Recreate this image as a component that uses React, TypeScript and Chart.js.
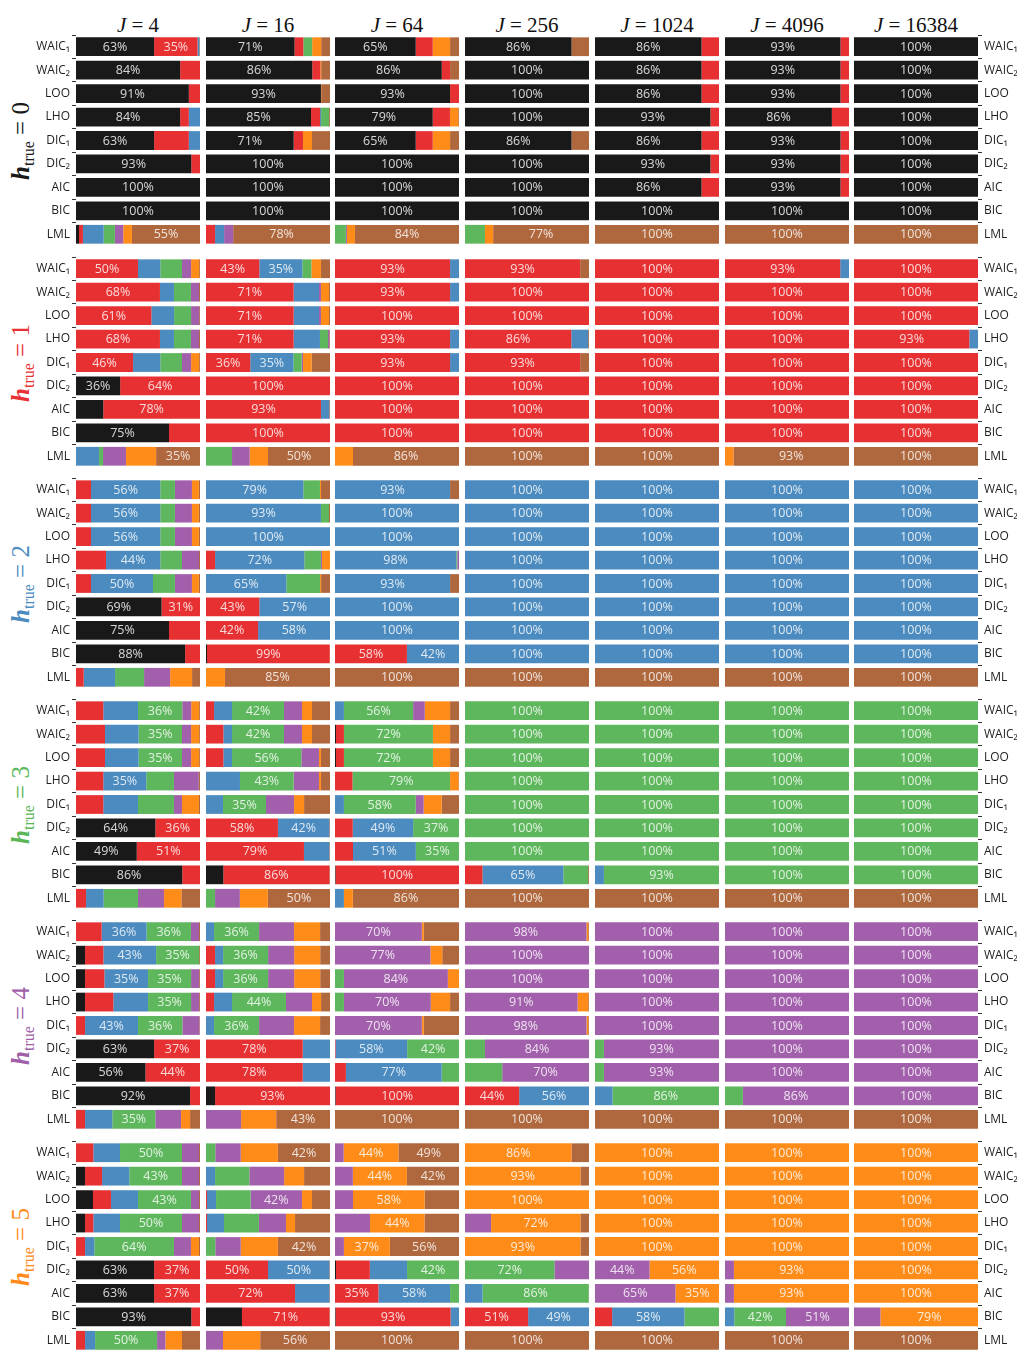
import React, { useEffect, useRef } from "react";
import { Chart, registerables } from "chart.js";
Chart.register(...registerables);

const CRITERIA = ["WAIC₁", "WAIC₂", "LOO", "LHO", "DIC₁", "DIC₂", "AIC", "BIC", "LML"];
const J_VALUES = ["4", "16", "64", "256", "1024", "4096", "16384"];
const H_TRUE = [0, 1, 2, 3, 4, 5];
// segment colours for selected h = 0..5 and h >= 6
const MODEL_COLORS = [
  "rgba(0,0,0,0.9)",
  "rgba(228,26,28,0.9)",
  "rgba(55,126,184,0.9)",
  "rgba(77,175,74,0.9)",
  "rgba(152,78,163,0.9)",
  "rgba(255,127,0,0.9)",
  "rgba(166,86,40,0.9)",
];
const ROW_LABEL_COLORS = ["#1a1a1a", "#e73133", "#4b8bbf", "#5ab657", "#a05fa9", "#ff8a1a"];

// each row: share of selections [h0, h1, h2, h3, h4, h5, h6+] for WAIC1..LML
// ---------- h_true = 0 ----------
const H0_J4 = [
  [0.63, 0.35, 0.015, 0, 0, 0, 0.005],
  [0.84, 0.16, 0, 0, 0, 0, 0],
  [0.91, 0.09, 0, 0, 0, 0, 0],
  [0.84, 0.07, 0.09, 0, 0, 0, 0],
  [0.63, 0.28, 0.09, 0, 0, 0, 0],
  [0.93, 0.07, 0, 0, 0, 0, 0],
  [1, 0, 0, 0, 0, 0, 0],
  [1, 0, 0, 0, 0, 0, 0],
  [0.024, 0.032, 0.167, 0.091, 0.067, 0.07, 0.549],
];
const H0_J16 = [
  [0.714, 0.071, 0, 0.071, 0, 0.073, 0.071],
  [0.857, 0.065, 0, 0, 0, 0.007, 0.071],
  [0.927, 0, 0, 0, 0, 0.002, 0.071],
  [0.847, 0.073, 0.008, 0.065, 0, 0, 0.007],
  [0.707, 0.075, 0, 0, 0, 0.073, 0.145],
  [1, 0, 0, 0, 0, 0, 0],
  [1, 0, 0, 0, 0, 0, 0],
  [1, 0, 0, 0, 0, 0, 0],
  [0, 0.073, 0.073, 0, 0.073, 0, 0.781],
];
const H0_J64 = [
  [0.651, 0.137, 0, 0, 0, 0.14, 0.072],
  [0.861, 0.067, 0, 0, 0, 0, 0.072],
  [0.928, 0.072, 0, 0, 0, 0, 0],
  [0.788, 0.139, 0, 0, 0, 0.067, 0.006],
  [0.651, 0.137, 0, 0, 0, 0.14, 0.072],
  [1, 0, 0, 0, 0, 0, 0],
  [1, 0, 0, 0, 0, 0, 0],
  [1, 0, 0, 0, 0, 0, 0],
  [0, 0, 0, 0.088, 0.008, 0.065, 0.839],
];
const H0_J256 = [
  [0.859, 0, 0, 0, 0, 0, 0.141],
  [1, 0, 0, 0, 0, 0, 0],
  [1, 0, 0, 0, 0, 0, 0],
  [1, 0, 0, 0, 0, 0, 0],
  [0.859, 0, 0, 0, 0, 0, 0.141],
  [1, 0, 0, 0, 0, 0, 0],
  [1, 0, 0, 0, 0, 0, 0],
  [1, 0, 0, 0, 0, 0, 0],
  [0, 0, 0, 0.161, 0, 0.066, 0.773],
];
const H0_J1024 = [
  [0.859, 0.141, 0, 0, 0, 0, 0],
  [0.859, 0.141, 0, 0, 0, 0, 0],
  [0.859, 0.141, 0, 0, 0, 0, 0],
  [0.931, 0.069, 0, 0, 0, 0, 0],
  [0.859, 0.141, 0, 0, 0, 0, 0],
  [0.931, 0.069, 0, 0, 0, 0, 0],
  [0.859, 0.141, 0, 0, 0, 0, 0],
  [1, 0, 0, 0, 0, 0, 0],
  [0, 0, 0, 0, 0, 0, 1],
];
const H0_J4096 = [
  [0.931, 0.069, 0, 0, 0, 0, 0],
  [0.931, 0.069, 0, 0, 0, 0, 0],
  [0.931, 0.069, 0, 0, 0, 0, 0],
  [0.862, 0.138, 0, 0, 0, 0, 0],
  [0.931, 0.069, 0, 0, 0, 0, 0],
  [0.931, 0.069, 0, 0, 0, 0, 0],
  [0.931, 0.069, 0, 0, 0, 0, 0],
  [1, 0, 0, 0, 0, 0, 0],
  [0, 0, 0, 0, 0, 0, 1],
];
const H0_J16384 = [
  [1, 0, 0, 0, 0, 0, 0],
  [1, 0, 0, 0, 0, 0, 0],
  [1, 0, 0, 0, 0, 0, 0],
  [1, 0, 0, 0, 0, 0, 0],
  [1, 0, 0, 0, 0, 0, 0],
  [1, 0, 0, 0, 0, 0, 0],
  [1, 0, 0, 0, 0, 0, 0],
  [1, 0, 0, 0, 0, 0, 0],
  [0, 0, 0, 0, 0, 0, 1],
];

// ---------- h_true = 1 ----------
const H1_J4 = [
  [0, 0.5, 0.18, 0.175, 0.073, 0.065, 0.007],
  [0, 0.677, 0.113, 0.137, 0.065, 0, 0.008],
  [0, 0.608, 0.183, 0.137, 0.065, 0, 0.007],
  [0, 0.677, 0.113, 0.137, 0.065, 0, 0.008],
  [0, 0.46, 0.22, 0.175, 0.073, 0.065, 0.007],
  [0.356, 0.644, 0, 0, 0, 0, 0],
  [0.22, 0.78, 0, 0, 0, 0, 0],
  [0.75, 0.25, 0, 0, 0, 0, 0],
  [0, 0, 0.186, 0.032, 0.185, 0.243, 0.354],
];
const H1_J16 = [
  [0, 0.43, 0.347, 0.073, 0, 0.077, 0.073],
  [0, 0.707, 0.204, 0, 0.016, 0.065, 0.008],
  [0, 0.707, 0.204, 0, 0.016, 0.065, 0.008],
  [0, 0.707, 0.212, 0.065, 0.01, 0, 0.006],
  [0, 0.357, 0.348, 0.067, 0.01, 0.07, 0.148],
  [0, 1, 0, 0, 0, 0, 0],
  [0, 0.927, 0.067, 0, 0, 0, 0.006],
  [0, 1, 0, 0, 0, 0, 0],
  [0, 0, 0, 0.21, 0.142, 0.148, 0.5],
];
const H1_J64 = [
  [0, 0.928, 0.072, 0, 0, 0, 0],
  [0, 0.928, 0.072, 0, 0, 0, 0],
  [0, 1, 0, 0, 0, 0, 0],
  [0, 0.928, 0.072, 0, 0, 0, 0],
  [0, 0.928, 0.072, 0, 0, 0, 0],
  [0, 1, 0, 0, 0, 0, 0],
  [0, 1, 0, 0, 0, 0, 0],
  [0, 1, 0, 0, 0, 0, 0],
  [0, 0, 0, 0, 0, 0.145, 0.855],
];
const H1_J256 = [
  [0, 0.929, 0, 0, 0, 0, 0.071],
  [0, 1, 0, 0, 0, 0, 0],
  [0, 1, 0, 0, 0, 0, 0],
  [0, 0.857, 0.136, 0, 0, 0, 0.007],
  [0, 0.929, 0, 0, 0, 0, 0.071],
  [0, 1, 0, 0, 0, 0, 0],
  [0, 1, 0, 0, 0, 0, 0],
  [0, 1, 0, 0, 0, 0, 0],
  [0, 0, 0, 0, 0, 0, 1],
];
const H1_J1024 = [
  [0, 1, 0, 0, 0, 0, 0],
  [0, 1, 0, 0, 0, 0, 0],
  [0, 1, 0, 0, 0, 0, 0],
  [0, 1, 0, 0, 0, 0, 0],
  [0, 1, 0, 0, 0, 0, 0],
  [0, 1, 0, 0, 0, 0, 0],
  [0, 1, 0, 0, 0, 0, 0],
  [0, 1, 0, 0, 0, 0, 0],
  [0, 0, 0, 0, 0, 0, 1],
];
const H1_J4096 = [
  [0, 0.929, 0.071, 0, 0, 0, 0],
  [0, 1, 0, 0, 0, 0, 0],
  [0, 1, 0, 0, 0, 0, 0],
  [0, 1, 0, 0, 0, 0, 0],
  [0, 1, 0, 0, 0, 0, 0],
  [0, 1, 0, 0, 0, 0, 0],
  [0, 1, 0, 0, 0, 0, 0],
  [0, 1, 0, 0, 0, 0, 0],
  [0, 0, 0, 0, 0, 0.069, 0.931],
];
const H1_J16384 = [
  [0, 1, 0, 0, 0, 0, 0],
  [0, 1, 0, 0, 0, 0, 0],
  [0, 1, 0, 0, 0, 0, 0],
  [0, 0.93, 0.07, 0, 0, 0, 0],
  [0, 1, 0, 0, 0, 0, 0],
  [0, 1, 0, 0, 0, 0, 0],
  [0, 1, 0, 0, 0, 0, 0],
  [0, 1, 0, 0, 0, 0, 0],
  [0, 0, 0, 0, 0, 0, 1],
];

// ---------- h_true = 2 ----------
const H2_J4 = [
  [0, 0.121, 0.559, 0.118, 0.137, 0.056, 0.009],
  [0, 0.121, 0.559, 0.118, 0.137, 0.056, 0.009],
  [0, 0.121, 0.559, 0.118, 0.137, 0.056, 0.009],
  [0, 0.242, 0.438, 0.175, 0.137, 0, 0.008],
  [0, 0.121, 0.5, 0.177, 0.137, 0.056, 0.009],
  [0.69, 0.31, 0, 0, 0, 0, 0],
  [0.75, 0.25, 0, 0, 0, 0, 0],
  [0.88, 0.12, 0, 0, 0, 0, 0],
  [0, 0.062, 0.253, 0.234, 0.21, 0.177, 0.064],
];
const H2_J16 = [
  [0, 0, 0.785, 0.134, 0, 0.008, 0.073],
  [0, 0, 0.927, 0.065, 0, 0, 0.008],
  [0, 0, 1, 0, 0, 0, 0],
  [0, 0.073, 0.72, 0.134, 0.008, 0.065, 0],
  [0, 0, 0.648, 0.272, 0, 0.008, 0.072],
  [0, 0.43, 0.57, 0, 0, 0, 0],
  [0, 0.42, 0.58, 0, 0, 0, 0],
  [0.008, 0.99, 0, 0, 0, 0, 0.002],
  [0, 0, 0, 0, 0, 0.153, 0.847],
];
const H2_J64 = [
  [0, 0, 0.928, 0, 0, 0, 0.072],
  [0, 0, 1, 0, 0, 0, 0],
  [0, 0, 1, 0, 0, 0, 0],
  [0, 0, 0.978, 0.008, 0.014, 0, 0],
  [0, 0, 0.928, 0, 0, 0, 0.072],
  [0, 0, 1, 0, 0, 0, 0],
  [0, 0, 1, 0, 0, 0, 0],
  [0, 0.58, 0.42, 0, 0, 0, 0],
  [0, 0, 0, 0, 0, 0, 1],
];
const H2_J256 = [
  [0, 0, 1, 0, 0, 0, 0],
  [0, 0, 1, 0, 0, 0, 0],
  [0, 0, 1, 0, 0, 0, 0],
  [0, 0, 1, 0, 0, 0, 0],
  [0, 0, 1, 0, 0, 0, 0],
  [0, 0, 1, 0, 0, 0, 0],
  [0, 0, 1, 0, 0, 0, 0],
  [0, 0, 1, 0, 0, 0, 0],
  [0, 0, 0, 0, 0, 0, 1],
];
const H2_J1024 = [
  [0, 0, 1, 0, 0, 0, 0],
  [0, 0, 1, 0, 0, 0, 0],
  [0, 0, 1, 0, 0, 0, 0],
  [0, 0, 1, 0, 0, 0, 0],
  [0, 0, 1, 0, 0, 0, 0],
  [0, 0, 1, 0, 0, 0, 0],
  [0, 0, 1, 0, 0, 0, 0],
  [0, 0, 1, 0, 0, 0, 0],
  [0, 0, 0, 0, 0, 0, 1],
];
const H2_J4096 = [
  [0, 0, 1, 0, 0, 0, 0],
  [0, 0, 1, 0, 0, 0, 0],
  [0, 0, 1, 0, 0, 0, 0],
  [0, 0, 1, 0, 0, 0, 0],
  [0, 0, 1, 0, 0, 0, 0],
  [0, 0, 1, 0, 0, 0, 0],
  [0, 0, 1, 0, 0, 0, 0],
  [0, 0, 1, 0, 0, 0, 0],
  [0, 0, 0, 0, 0, 0, 1],
];
const H2_J16384 = [
  [0, 0, 1, 0, 0, 0, 0],
  [0, 0, 1, 0, 0, 0, 0],
  [0, 0, 1, 0, 0, 0, 0],
  [0, 0, 1, 0, 0, 0, 0],
  [0, 0, 1, 0, 0, 0, 0],
  [0, 0, 1, 0, 0, 0, 0],
  [0, 0, 1, 0, 0, 0, 0],
  [0, 0, 1, 0, 0, 0, 0],
  [0, 0, 0, 0, 0, 0, 1],
];

// ---------- h_true = 3 ----------
const H3_J4 = [
  [0, 0.22, 0.28, 0.357, 0.072, 0.064, 0.007],
  [0, 0.234, 0.271, 0.35, 0.073, 0.065, 0.007],
  [0, 0.234, 0.271, 0.35, 0.073, 0.065, 0.007],
  [0, 0.22, 0.347, 0.223, 0.2, 0, 0.01],
  [0, 0.22, 0.28, 0.29, 0.065, 0.137, 0.008],
  [0.64, 0.36, 0, 0, 0, 0, 0],
  [0.49, 0.51, 0, 0, 0, 0, 0],
  [0.857, 0.143, 0, 0, 0, 0, 0],
  [0, 0.081, 0.142, 0.277, 0.21, 0.14, 0.15],
];
const H3_J16 = [
  [0, 0.065, 0.145, 0.419, 0.145, 0.081, 0.145],
  [0, 0.14, 0.07, 0.419, 0.145, 0.081, 0.145],
  [0, 0.14, 0.07, 0.559, 0.142, 0.016, 0.073],
  [0, 0, 0.274, 0.433, 0.204, 0.016, 0.073],
  [0, 0, 0.137, 0.347, 0.226, 0.081, 0.209],
  [0, 0.58, 0.415, 0, 0, 0, 0.005],
  [0, 0.79, 0.205, 0, 0, 0, 0.005],
  [0.14, 0.855, 0, 0, 0, 0, 0.005],
  [0, 0, 0, 0.073, 0.2, 0.226, 0.501],
];
const H3_J64 = [
  [0, 0, 0.072, 0.558, 0.094, 0.204, 0.072],
  [0.008, 0.064, 0, 0.718, 0, 0.138, 0.072],
  [0.008, 0.064, 0, 0.718, 0, 0.138, 0.072],
  [0, 0.141, 0, 0.787, 0, 0.067, 0.005],
  [0, 0, 0.072, 0.579, 0.064, 0.145, 0.14],
  [0, 0.143, 0.487, 0.37, 0, 0, 0],
  [0, 0.145, 0.507, 0.348, 0, 0, 0],
  [0.004, 0.996, 0, 0, 0, 0, 0],
  [0, 0, 0.072, 0, 0, 0.072, 0.856],
];
const H3_J256 = [
  [0, 0, 0, 1, 0, 0, 0],
  [0, 0, 0, 1, 0, 0, 0],
  [0, 0, 0, 1, 0, 0, 0],
  [0, 0, 0, 1, 0, 0, 0],
  [0, 0, 0, 1, 0, 0, 0],
  [0, 0, 0, 1, 0, 0, 0],
  [0, 0, 0, 1, 0, 0, 0],
  [0, 0.141, 0.652, 0.2, 0, 0, 0.007],
  [0, 0, 0, 0, 0, 0, 1],
];
const H3_J1024 = [
  [0, 0, 0, 1, 0, 0, 0],
  [0, 0, 0, 1, 0, 0, 0],
  [0, 0, 0, 1, 0, 0, 0],
  [0, 0, 0, 1, 0, 0, 0],
  [0, 0, 0, 1, 0, 0, 0],
  [0, 0, 0, 1, 0, 0, 0],
  [0, 0, 0, 1, 0, 0, 0],
  [0, 0, 0.072, 0.928, 0, 0, 0],
  [0, 0, 0, 0, 0, 0, 1],
];
const H3_J4096 = [
  [0, 0, 0, 1, 0, 0, 0],
  [0, 0, 0, 1, 0, 0, 0],
  [0, 0, 0, 1, 0, 0, 0],
  [0, 0, 0, 1, 0, 0, 0],
  [0, 0, 0, 1, 0, 0, 0],
  [0, 0, 0, 1, 0, 0, 0],
  [0, 0, 0, 1, 0, 0, 0],
  [0, 0, 0, 1, 0, 0, 0],
  [0, 0, 0, 0, 0, 0, 1],
];
const H3_J16384 = [
  [0, 0, 0, 1, 0, 0, 0],
  [0, 0, 0, 1, 0, 0, 0],
  [0, 0, 0, 1, 0, 0, 0],
  [0, 0, 0, 1, 0, 0, 0],
  [0, 0, 0, 1, 0, 0, 0],
  [0, 0, 0, 1, 0, 0, 0],
  [0, 0, 0, 1, 0, 0, 0],
  [0, 0, 0, 1, 0, 0, 0],
  [0, 0, 0, 0, 0, 0, 1],
];

// ---------- h_true = 4 ----------
const H4_J4 = [
  [0, 0.207, 0.362, 0.358, 0.065, 0, 0.008],
  [0.073, 0.148, 0.425, 0.347, 0, 0, 0.007],
  [0.073, 0.156, 0.352, 0.347, 0.065, 0, 0.007],
  [0.073, 0.228, 0.28, 0.347, 0.065, 0, 0.007],
  [0, 0.073, 0.427, 0.358, 0.137, 0, 0.005],
  [0.63, 0.37, 0, 0, 0, 0, 0],
  [0.56, 0.44, 0, 0, 0, 0, 0],
  [0.92, 0.08, 0, 0, 0, 0, 0],
  [0, 0.073, 0.22, 0.347, 0.207, 0.073, 0.08],
];
const H4_J16 = [
  [0, 0, 0.065, 0.363, 0.282, 0.21, 0.08],
  [0, 0.073, 0.065, 0.363, 0.21, 0.21, 0.079],
  [0, 0.073, 0.065, 0.363, 0.21, 0.21, 0.079],
  [0, 0.065, 0.145, 0.435, 0.21, 0.073, 0.072],
  [0, 0, 0.065, 0.363, 0.282, 0.21, 0.08],
  [0, 0.78, 0.22, 0, 0, 0, 0],
  [0, 0.78, 0.22, 0, 0, 0, 0],
  [0.073, 0.927, 0, 0, 0, 0, 0],
  [0, 0, 0, 0, 0.283, 0.283, 0.434],
];
const H4_J64 = [
  [0, 0, 0, 0, 0.7, 0.016, 0.284],
  [0, 0, 0, 0, 0.77, 0.095, 0.135],
  [0, 0, 0, 0.072, 0.838, 0.09, 0],
  [0, 0, 0, 0.072, 0.7, 0.156, 0.072],
  [0, 0, 0, 0, 0.7, 0.016, 0.284],
  [0, 0.004, 0.578, 0.418, 0, 0, 0],
  [0, 0.088, 0.772, 0.14, 0, 0, 0],
  [0.004, 0.996, 0, 0, 0, 0, 0],
  [0, 0, 0, 0, 0, 0, 1],
];
const H4_J256 = [
  [0, 0, 0, 0, 0.98, 0.014, 0.006],
  [0, 0, 0, 0, 1, 0, 0],
  [0, 0, 0, 0, 1, 0, 0],
  [0, 0, 0, 0, 0.908, 0.086, 0.006],
  [0, 0, 0, 0, 0.98, 0.014, 0.006],
  [0, 0, 0, 0.161, 0.839, 0, 0],
  [0, 0, 0, 0.3, 0.7, 0, 0],
  [0, 0.437, 0.563, 0, 0, 0, 0],
  [0, 0, 0, 0, 0, 0, 1],
];
const H4_J1024 = [
  [0, 0, 0, 0, 1, 0, 0],
  [0, 0, 0, 0, 1, 0, 0],
  [0, 0, 0, 0, 1, 0, 0],
  [0, 0, 0, 0, 1, 0, 0],
  [0, 0, 0, 0, 1, 0, 0],
  [0, 0, 0, 0.072, 0.928, 0, 0],
  [0, 0, 0, 0.072, 0.928, 0, 0],
  [0, 0, 0.141, 0.859, 0, 0, 0],
  [0, 0, 0, 0, 0, 0, 1],
];
const H4_J4096 = [
  [0, 0, 0, 0, 1, 0, 0],
  [0, 0, 0, 0, 1, 0, 0],
  [0, 0, 0, 0, 1, 0, 0],
  [0, 0, 0, 0, 1, 0, 0],
  [0, 0, 0, 0, 1, 0, 0],
  [0, 0, 0, 0, 1, 0, 0],
  [0, 0, 0, 0, 1, 0, 0],
  [0, 0, 0, 0.144, 0.856, 0, 0],
  [0, 0, 0, 0, 0, 0, 1],
];
const H4_J16384 = [
  [0, 0, 0, 0, 1, 0, 0],
  [0, 0, 0, 0, 1, 0, 0],
  [0, 0, 0, 0, 1, 0, 0],
  [0, 0, 0, 0, 1, 0, 0],
  [0, 0, 0, 0, 1, 0, 0],
  [0, 0, 0, 0, 1, 0, 0],
  [0, 0, 0, 0, 1, 0, 0],
  [0, 0, 0, 0, 1, 0, 0],
  [0, 0, 0, 0, 0, 0, 1],
];

// ---------- h_true = 5 ----------
const H5_J4 = [
  [0, 0.14, 0.215, 0.5, 0.137, 0, 0.008],
  [0.073, 0.137, 0.22, 0.425, 0.137, 0, 0.008],
  [0.137, 0.145, 0.218, 0.427, 0.065, 0, 0.008],
  [0.073, 0.067, 0.215, 0.5, 0.137, 0, 0.008],
  [0, 0.073, 0.075, 0.642, 0.137, 0.065, 0.008],
  [0.63, 0.37, 0, 0, 0, 0, 0],
  [0.63, 0.37, 0, 0, 0, 0, 0],
  [0.93, 0.07, 0, 0, 0, 0, 0],
  [0, 0.073, 0.081, 0.5, 0.067, 0.134, 0.145],
];
const H5_J16 = [
  [0, 0, 0, 0.075, 0.205, 0.3, 0.42],
  [0, 0, 0.073, 0.277, 0.28, 0.161, 0.209],
  [0, 0.008, 0.073, 0.278, 0.415, 0.081, 0.145],
  [0, 0.008, 0.137, 0.282, 0.218, 0.073, 0.282],
  [0, 0, 0, 0.075, 0.205, 0.3, 0.42],
  [0, 0.5, 0.495, 0, 0, 0, 0.005],
  [0, 0.718, 0.277, 0, 0, 0, 0.005],
  [0.29, 0.705, 0, 0, 0, 0, 0.005],
  [0, 0, 0, 0, 0.137, 0.3, 0.563],
];
const H5_J64 = [
  [0, 0, 0, 0, 0.07, 0.442, 0.488],
  [0, 0, 0, 0, 0.144, 0.436, 0.42],
  [0, 0, 0, 0, 0.145, 0.578, 0.277],
  [0, 0, 0, 0, 0.282, 0.44, 0.278],
  [0, 0, 0, 0, 0.072, 0.37, 0.558],
  [0.008, 0.273, 0.3, 0.419, 0, 0, 0],
  [0, 0.35, 0.578, 0.072, 0, 0, 0],
  [0.004, 0.928, 0.068, 0, 0, 0, 0],
  [0, 0, 0, 0, 0, 0, 1],
];
const H5_J256 = [
  [0, 0, 0, 0, 0, 0.859, 0.141],
  [0, 0, 0, 0, 0, 0.931, 0.069],
  [0, 0, 0, 0, 0, 1, 0],
  [0, 0, 0, 0, 0.21, 0.721, 0.069],
  [0, 0, 0, 0, 0, 0.931, 0.069],
  [0, 0, 0, 0.721, 0.279, 0, 0],
  [0, 0, 0.141, 0.857, 0, 0, 0.002],
  [0, 0.509, 0.491, 0, 0, 0, 0],
  [0, 0, 0, 0, 0, 0, 1],
];
const H5_J1024 = [
  [0, 0, 0, 0, 0, 1, 0],
  [0, 0, 0, 0, 0, 1, 0],
  [0, 0, 0, 0, 0, 1, 0],
  [0, 0, 0, 0, 0, 1, 0],
  [0, 0, 0, 0, 0, 1, 0],
  [0, 0, 0, 0, 0.44, 0.56, 0],
  [0, 0, 0, 0, 0.649, 0.351, 0],
  [0, 0.138, 0.583, 0.279, 0, 0, 0],
  [0, 0, 0, 0, 0, 0, 1],
];
const H5_J4096 = [
  [0, 0, 0, 0, 0, 1, 0],
  [0, 0, 0, 0, 0, 1, 0],
  [0, 0, 0, 0, 0, 1, 0],
  [0, 0, 0, 0, 0, 1, 0],
  [0, 0, 0, 0, 0, 1, 0],
  [0, 0, 0, 0, 0.072, 0.928, 0],
  [0, 0, 0, 0, 0.072, 0.928, 0],
  [0, 0, 0.075, 0.417, 0.508, 0, 0],
  [0, 0, 0, 0, 0, 0, 1],
];
const H5_J16384 = [
  [0, 0, 0, 0, 0, 1, 0],
  [0, 0, 0, 0, 0, 1, 0],
  [0, 0, 0, 0, 0, 1, 0],
  [0, 0, 0, 0, 0, 1, 0],
  [0, 0, 0, 0, 0, 1, 0],
  [0, 0, 0, 0, 0, 1, 0],
  [0, 0, 0, 0, 0, 1, 0],
  [0, 0, 0, 0, 0.213, 0.787, 0],
  [0, 0, 0, 0, 0, 0, 1],
];

const GRID = [
  [H0_J4, H0_J16, H0_J64, H0_J256, H0_J1024, H0_J4096, H0_J16384],
  [H1_J4, H1_J16, H1_J64, H1_J256, H1_J1024, H1_J4096, H1_J16384],
  [H2_J4, H2_J16, H2_J64, H2_J256, H2_J1024, H2_J4096, H2_J16384],
  [H3_J4, H3_J16, H3_J64, H3_J256, H3_J1024, H3_J4096, H3_J16384],
  [H4_J4, H4_J16, H4_J64, H4_J256, H4_J1024, H4_J4096, H4_J16384],
  [H5_J4, H5_J16, H5_J64, H5_J256, H5_J1024, H5_J4096, H5_J16384],
];

// layout
const COL_X = [76, 206, 335, 465, 595, 725, 854];
const PANEL_W = 124;
const LEFT_AXIS_W = 76;
const RIGHT_AXIS_W = 1017 - 854 - 124;
const PANEL_H = 211;
const rowTop = (g: number) => Math.round(35.4 + 221.1 * g);

const pctLabels = {
  id: "pctLabels",
  afterDatasetsDraw(chart: any) {
    const ctx = chart.ctx;
    ctx.save();
    ctx.font = '12.5px "Open Sans"';
    ctx.fillStyle = "rgba(255,255,255,0.82)";
    ctx.textAlign = "center";
    ctx.textBaseline = "middle";
    chart.data.datasets.forEach((ds: any, i: number) => {
      const meta = chart.getDatasetMeta(i);
      meta.data.forEach((el: any, j: number) => {
        const v = ds.data[j];
        if (v >= 0.305) {
          const p = el.getProps(["x", "base", "y"], true);
          ctx.fillText(Math.round(v * 100) + "%", (p.x + p.base) / 2, p.y + 0.5);
        }
      });
    });
    ctx.restore();
  },
};

function Panel({ rows, col, g }: { rows: number[][]; col: number; g: number }) {
  const ref = useRef<HTMLCanvasElement>(null);
  const isFirst = col === 0;
  const isLast = col === 6;
  const showAxis = isFirst || isLast;
  const left = isFirst ? COL_X[0] - LEFT_AXIS_W : COL_X[col];
  const width = PANEL_W + (isFirst ? LEFT_AXIS_W : isLast ? RIGHT_AXIS_W : 0);
  useEffect(() => {
    if (!ref.current) return;
    const datasets = MODEL_COLORS.map((color, k) => ({
      label: "h=" + k,
      data: rows.map((r) => r[k]),
      backgroundColor: color,
      borderWidth: 0,
      barPercentage: 0.8,
      categoryPercentage: 1,
    }));
    const yScale: any = {
      stacked: true,
      display: showAxis,
      position: isLast ? "right" : "left",
      grid: { display: true, drawOnChartArea: false, drawTicks: true, tickLength: 4, color: "#333", lineWidth: 1 },
      border: { display: false },
      ticks: { color: "#1e1e1e", font: { family: "Open Sans", size: 12 }, padding: 2, autoSkip: false },
    };
    if (showAxis) {
      yScale.afterFit = (s: any) => {
        s.width = isFirst ? LEFT_AXIS_W : RIGHT_AXIS_W;
        s.paddingTop = 0;
        s.paddingBottom = 0;
      };
    }
    const chart = new Chart(ref.current, {
      type: "bar",
      data: { labels: CRITERIA, datasets },
      options: {
        indexAxis: "y",
        animation: false,
        responsive: false,
        maintainAspectRatio: false,
        events: [],
        layout: { padding: 0 },
        plugins: { legend: { display: false }, tooltip: { enabled: false }, title: { display: false } },
        scales: {
          x: { stacked: true, min: 0, max: 1, display: false },
          y: yScale,
        },
      } as any,
      plugins: [pctLabels],
    });
    return () => chart.destroy();
  }, []);
  return (
    <canvas
      ref={ref}
      width={width}
      height={PANEL_H}
      style={{ position: "absolute", left, top: rowTop(g), width, height: PANEL_H }}
    />
  );
}

export default function App() {
  return (
    <div style={{ position: "absolute", left: 0, top: 0, width: 1017, height: 1360, background: "#fff", overflow: "hidden" }}>
      {J_VALUES.map((j, c) => (
        <div
          key={"t" + c}
          style={{
            position: "absolute",
            left: COL_X[c] + PANEL_W / 2,
            top: 25,
            transform: "translate(-50%,-50%)",
            fontFamily: '"Liberation Serif", serif',
            fontSize: 21,
            whiteSpace: "nowrap",
            color: "#111",
          }}
        >
          <i>J</i>
          {" = " + j}
        </div>
      ))}
      {H_TRUE.map((h, g) => (
        <div
          key={"r" + g}
          style={{
            position: "absolute",
            left: 22,
            top: rowTop(g) + PANEL_H / 2,
            transform: "translate(-50%,-50%) rotate(-90deg)",
            fontFamily: '"Liberation Serif", serif',
            fontSize: 25,
            whiteSpace: "nowrap",
            color: ROW_LABEL_COLORS[g],
            lineHeight: "28px",
          }}
        >
          <i style={{ fontWeight: 700 }}>h</i>
          <span style={{ fontSize: 16, position: "relative", top: 5 }}>true</span>
          {" = " + h}
        </div>
      ))}
      {GRID.map((rowPanels, g) =>
        rowPanels.map((rows, c) => <Panel key={g + "-" + c} rows={rows} col={c} g={g} />)
      )}
    </div>
  );
}
